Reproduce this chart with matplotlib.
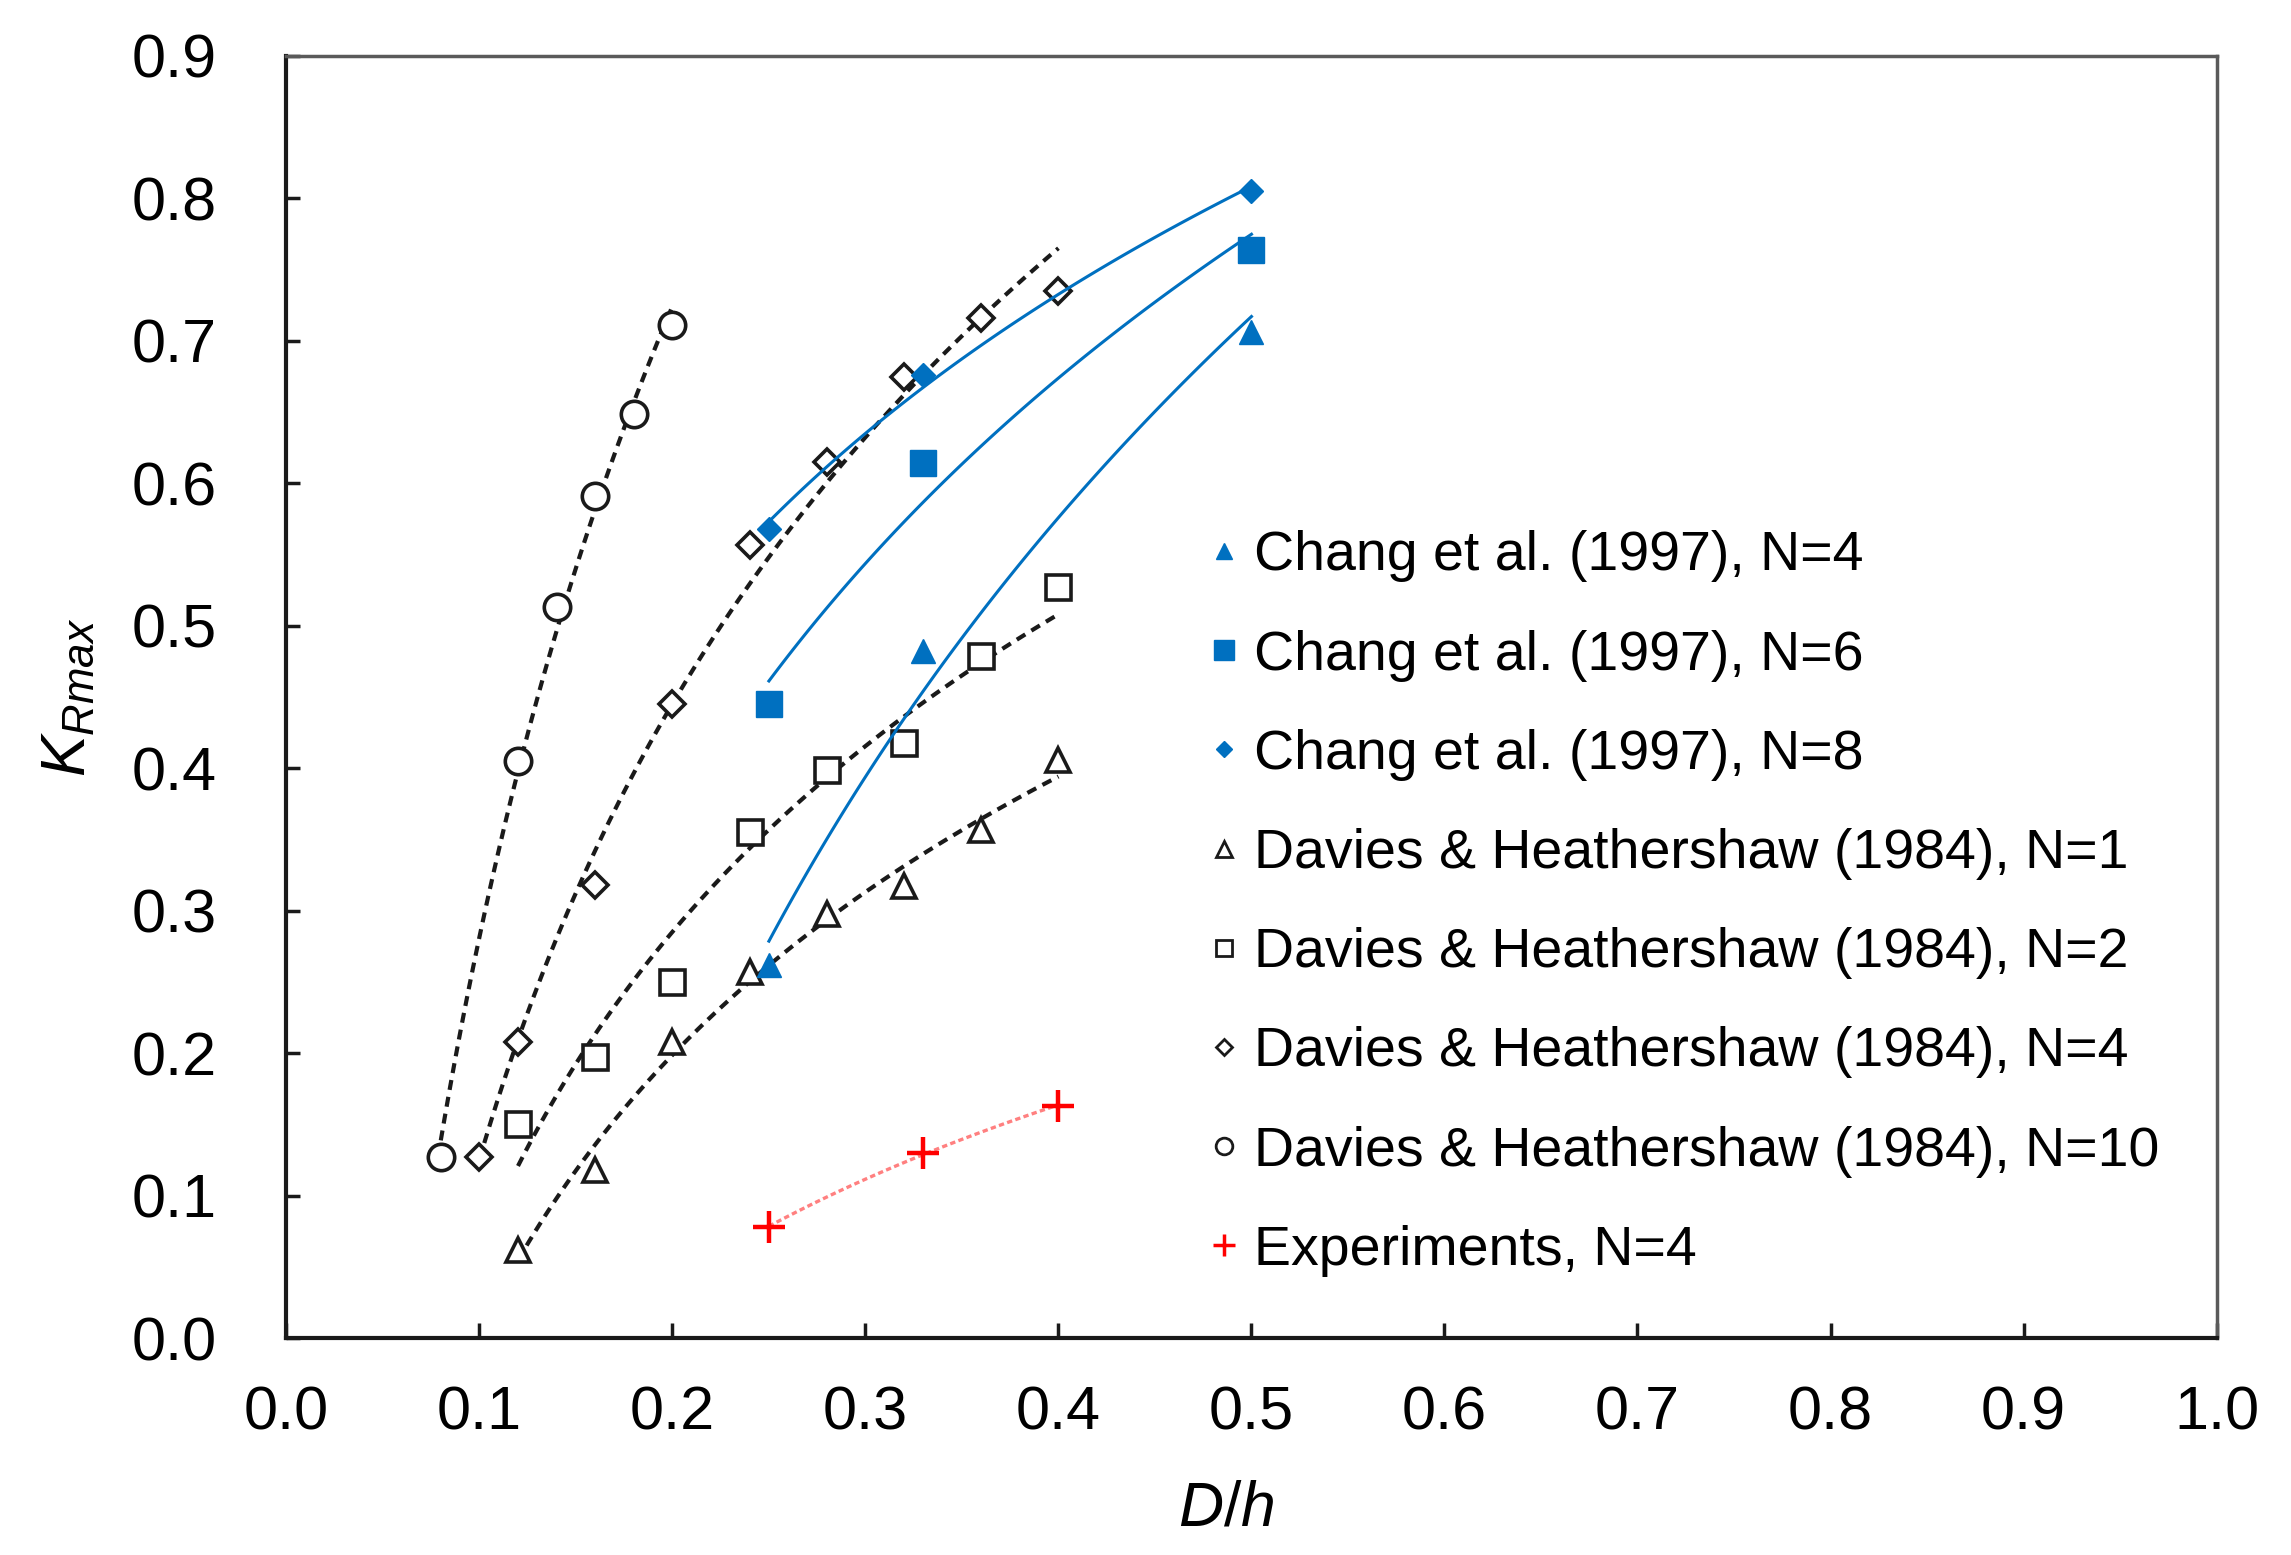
import numpy as np
import matplotlib
matplotlib.use("Agg")
import matplotlib.pyplot as plt
from matplotlib.lines import Line2D

plt.rcParams['font.family'] = ['Liberation Sans', 'DejaVu Sans']
plt.rcParams['mathtext.fontset'] = 'custom'
plt.rcParams['mathtext.it'] = 'Liberation Sans:italic'
plt.rcParams['mathtext.rm'] = 'Liberation Sans'

# Chang et al. (1997)
chang_x = [0.25, 0.33, 0.50]
chang_n4 = [0.262, 0.482, 0.706]
chang_n6 = [0.445, 0.614, 0.764]
chang_n8 = [0.568, 0.676, 0.805]

# Davies & Heathershaw (1984)
dh_x_n1 = [0.12, 0.16, 0.20, 0.24, 0.28, 0.32, 0.36, 0.40]
dh_n1 = [0.062, 0.118, 0.208, 0.257, 0.298, 0.317, 0.357, 0.406]
dh_x_n2 = [0.12, 0.16, 0.20, 0.24, 0.28, 0.32, 0.36, 0.40]
dh_n2 = [0.150, 0.197, 0.250, 0.355, 0.399, 0.418, 0.479, 0.527]
dh_x_n4 = [0.10, 0.12, 0.16, 0.20, 0.24, 0.28, 0.32, 0.36, 0.40]
dh_n4 = [0.127, 0.208, 0.318, 0.445, 0.557, 0.615, 0.675, 0.716, 0.735]
dh_x_n10 = [0.08, 0.12, 0.14, 0.16, 0.18, 0.20]
dh_n10 = [0.127, 0.405, 0.513, 0.591, 0.649, 0.711]

# Experiments
exp_x = [0.25, 0.33, 0.40]
exp_n4 = [0.078, 0.130, 0.163]

x_ticks = [0.0, 0.1, 0.2, 0.3, 0.4, 0.5, 0.6, 0.7, 0.8, 0.9, 1.0]
y_ticks = [0.0, 0.1, 0.2, 0.3, 0.4, 0.5, 0.6, 0.7, 0.8, 0.9]

BLUE = '#0070C0'
DARK = '#1a1a1a'


def log_trend(x, y, n=100):
    # logarithmic trend line (like the spreadsheet trendline) over the data range
    x = np.asarray(x, dtype=float)
    y = np.asarray(y, dtype=float)
    b, a = np.polyfit(np.log(x), y, 1)
    xs = np.linspace(x.min(), x.max(), n)
    return xs, a + b * np.log(xs)


fig = plt.figure(figsize=(22.91, 15.55), dpi=100)
ax = fig.add_axes([0.125, 0.1395, 0.8425, 0.8245])

dash = (0, (2.4, 1.7))

# Davies & Heathershaw trend lines + markers
for xs, ys in [(dh_x_n1, dh_n1), (dh_x_n2, dh_n2), (dh_x_n4, dh_n4), (dh_x_n10, dh_n10)]:
    tx, ty = log_trend(xs, ys)
    ax.plot(tx, ty, color=DARK, lw=3, linestyle=dash, zorder=2)

open_kw = dict(linestyle='none', markerfacecolor='white', markeredgecolor=DARK,
               markeredgewidth=2.6, zorder=3)
ax.plot(dh_x_n1, dh_n1, marker='^', markersize=17, **open_kw)
ax.plot(dh_x_n2, dh_n2, marker='s', markersize=18, **open_kw)
ax.plot(dh_x_n4, dh_n4, marker='D', markersize=13, **open_kw)
ax.plot(dh_x_n10, dh_n10, marker='o', markersize=19, **open_kw)

# Chang et al. trend lines + markers
for ys in [chang_n4, chang_n6, chang_n8]:
    tx, ty = log_trend(chang_x, ys)
    ax.plot(tx, ty, color=BLUE, lw=2.2, zorder=4)

ax.plot(chang_x, chang_n4, linestyle='none', marker='^', markersize=17, color=BLUE, zorder=5)
ax.plot(chang_x, chang_n6, linestyle='none', marker='s', markersize=19, color=BLUE, zorder=5)
ax.plot(chang_x, chang_n8, linestyle='none', marker='D', markersize=12, color=BLUE, zorder=5)

# Experiments
tx, ty = log_trend(exp_x, exp_n4)
ax.plot(tx, ty, color='#FF8080', lw=2.4, linestyle=(0, (1.6, 1.0)), zorder=4)
ax.plot(exp_x, exp_n4, linestyle='none', marker='+', markersize=23, markeredgewidth=3.2,
        color='#FF0000', zorder=5)

ax.set_xlim(0, 1.0)
ax.set_ylim(0, 0.9)
ax.set_xticks(x_ticks)
ax.set_yticks(y_ticks)
ax.set_xticklabels([f'{v:.1f}' for v in x_ticks])
ax.set_yticklabels([f'{v:.1f}' for v in y_ticks])
ax.tick_params(axis='x', direction='in', length=11, width=2.5, labelsize=44, pad=34, color=DARK)
ax.tick_params(axis='y', direction='in', length=10, width=2.5, labelsize=44, pad=50, color=DARK)

for side in ['left', 'bottom']:
    ax.spines[side].set_linewidth(3)
    ax.spines[side].set_color(DARK)
for side in ['top', 'right']:
    ax.spines[side].set_linewidth(2.5)
    ax.spines[side].set_color('#5a5a5a')

ax.set_xlabel(r'$D/h$', fontsize=45, labelpad=27, x=0.487)
ax.set_ylabel(r'$K_{Rmax}$', fontsize=45, labelpad=24)

handles = [
    Line2D([], [], linestyle='none', marker='^', markersize=11, color=BLUE),
    Line2D([], [], linestyle='none', marker='s', markersize=14, color=BLUE),
    Line2D([], [], linestyle='none', marker='D', markersize=8, color=BLUE),
    Line2D([], [], linestyle='none', marker='^', markersize=11, markerfacecolor='white',
           markeredgecolor=DARK, markeredgewidth=2),
    Line2D([], [], linestyle='none', marker='s', markersize=12, markerfacecolor='white',
           markeredgecolor=DARK, markeredgewidth=2),
    Line2D([], [], linestyle='none', marker='D', markersize=8, markerfacecolor='white',
           markeredgecolor=DARK, markeredgewidth=2),
    Line2D([], [], linestyle='none', marker='o', markersize=12, markerfacecolor='white',
           markeredgecolor=DARK, markeredgewidth=2),
    Line2D([], [], linestyle='none', marker='+', markersize=16, markeredgewidth=2.5,
           color='#FF0000'),
]
labels = [
    'Chang et al. (1997), N=4',
    'Chang et al. (1997), N=6',
    'Chang et al. (1997), N=8',
    'Davies & Heathershaw (1984), N=1',
    'Davies & Heathershaw (1984), N=2',
    'Davies & Heathershaw (1984), N=4',
    'Davies & Heathershaw (1984), N=10',
    'Experiments, N=4',
]
ax.legend(handles, labels, loc='upper left', bbox_to_anchor=(0.4785, 0.630), frameon=False,
          fontsize=40, handlelength=0.5, handletextpad=0.3, labelspacing=0.85,
          borderaxespad=0, borderpad=0)

fig.savefig('out.png', dpi=100)
